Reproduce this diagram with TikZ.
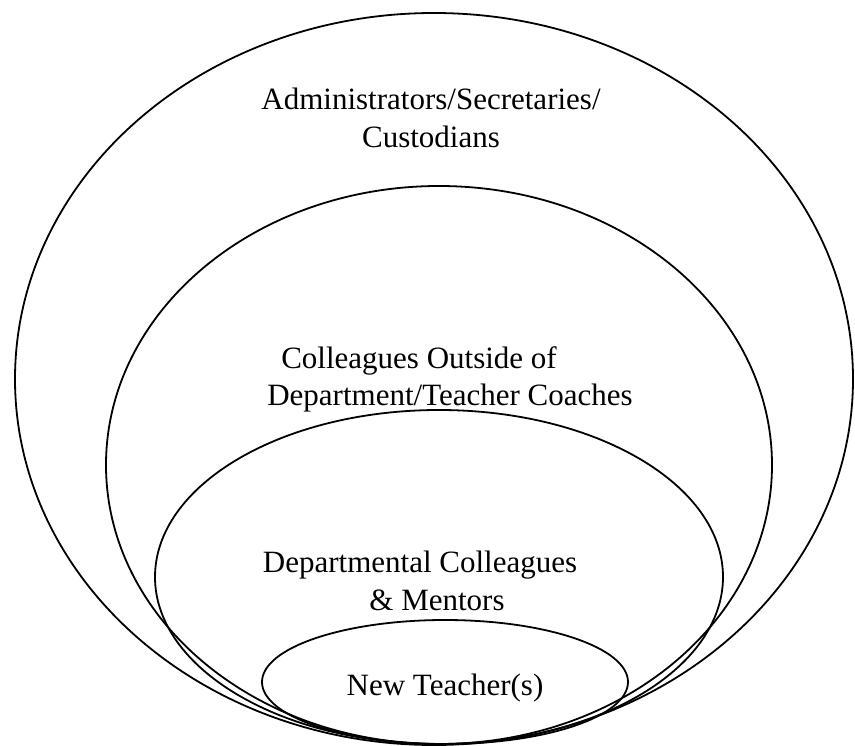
\documentclass[tikz,border=0pt]{standalone}
\usepackage{fontspec}
\setmainfont{Liberation Serif}
\begin{document}
\begin{tikzpicture}[x=1pt,y=-1pt,
  ring/.style={draw=black,line width=1.8pt},
  label/.style={anchor=base,inner sep=0pt,font=\fontsize{31}{37}\selectfont}]
\useasboundingbox (0,0) rectangle (855,746);
% nested circles of support, outermost first
\draw[ring] (434,379) ellipse [x radius=419pt, y radius=366pt];
\draw[ring] (439,465) ellipse [x radius=333pt, y radius=279pt];
\draw[ring] (439,577) ellipse [x radius=284pt, y radius=167pt];
\draw[ring] (445,682) ellipse [x radius=183pt, y radius=62pt];
% labels
\node[label] (adm1) at (431,110) {Administrators/Secretaries/};
\node[label] (adm2) at (431,148) {Custodians};
\node[label] (col1) at (419,368) {Colleagues Outside of};
\node[label] (col2) at (450,406) {Department/Teacher Coaches};
\node[label] (dep1) at (420,572) {Departmental Colleagues};
\node[label] (dep2) at (437,610) {\& Mentors};
\node[label] (new) at (445,695) {New Teacher(s)};
\end{tikzpicture}
\end{document}
